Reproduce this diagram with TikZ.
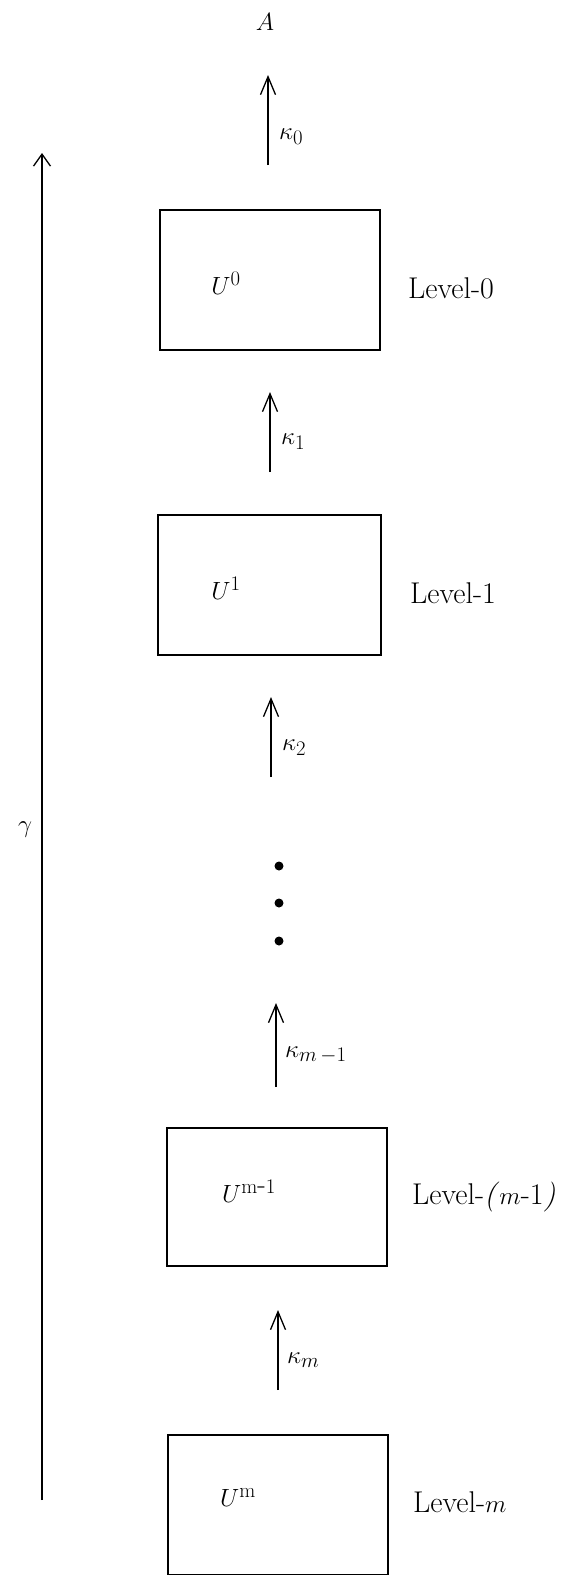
\documentclass[tikz,border=0pt]{standalone}
\usetikzlibrary{arrows.meta}
\begin{document}
\begin{tikzpicture}[x=1pt,y=-1pt,
  levelbox/.style={draw,line width=1.4pt,minimum width=220pt,minimum height=140pt,inner sep=0pt},
  txt/.style={inner sep=0pt,font=\fontsize{30}{36}\selectfont},
  utxt/.style={inner sep=0pt,font=\fontsize{28}{34}\selectfont},
  ktxt/.style={inner sep=0pt,font=\fontsize{32}{38}\selectfont},
  flow/.style={line width=1.3pt,-{Straight Barb[length=18pt,width=15pt,line width=1.3pt]}},
  dotn/.style={circle,fill,inner sep=0pt,minimum size=9pt}]
\useasboundingbox (0,0) rectangle (586,1575);
% boxes
\node[levelbox] (b0) at (270,280) {};
\node[levelbox, minimum width=223pt] (b1) at (269.5,585) {};
\node[levelbox, minimum height=138pt] (bm1) at (277,1197) {};
\node[levelbox] (bm) at (278,1505) {};
% texts in boxes
\node[utxt] (u0) at (226,283) {$U^{0}$};
\node[utxt] (u1) at (226,588) {$U^{1}$};
\node[utxt] (um1) at (249,1191) {$U^{\mathrm{m}\mbox{-}\mathrm{1}}$};
\node[utxt] (um) at (238,1498) {$U^{\mathrm{m}}$};
% level labels
\node[txt,anchor=west] (l0) at (408,288) {Level-0};
\node[txt,anchor=west] (l1) at (410,593) {Level-1};
\node[txt,anchor=west] (lm1) at (412,1197) {Level-\textit{(}$m$-1\textit{)}};
\node[txt,anchor=west] (lm) at (413,1502) {Level-$m$};
% top label
\node[ktxt,font=\fontsize{28}{34}\selectfont] (A) at (265,22) {$A$};
% arrows
\coordinate (k0s) at (268,165); \coordinate (k0e) at (268,75);
\coordinate (k1s) at (270,472); \coordinate (k1e) at (270,392);
\coordinate (k2s) at (271,777); \coordinate (k2e) at (271,697);
\coordinate (k3s) at (276,1087); \coordinate (k3e) at (276,1003);
\coordinate (k4s) at (278,1390); \coordinate (k4e) at (278,1310);
\draw[flow] (k0s) -- (k0e);
\draw[flow] (k1s) -- (k1e);
\draw[flow] (k2s) -- (k2e);
\draw[flow] (k3s) -- (k3e);
\draw[flow] (k4s) -- (k4e);
\node[ktxt,anchor=west] (kl0) at (279,137) {$\kappa_0$};
\node[ktxt,anchor=west] (kl1) at (281,442) {$\kappa_1$};
\node[ktxt,anchor=west] (kl2) at (282,748) {$\kappa_2$};
\node[ktxt,anchor=west] (kl3) at (285,1055) {$\kappa_{m\,-1}$};
\node[ktxt,anchor=west] (kl4) at (287,1360) {$\kappa_{m}$};
% dots
\node[dotn] (d1) at (279,866) {};
\node[dotn] (d2) at (279,903) {};
\node[dotn] (d3) at (279,941) {};
% gamma
\coordinate (gs) at (42,1500); \coordinate (ge) at (42,153);
\draw[line width=1.3pt,-{Straight Barb[length=12pt,width=17pt,line width=1.3pt]}] (gs) -- (ge);
\node[ktxt] (gam) at (25,830) {$\gamma$};
\end{tikzpicture}
\end{document}
